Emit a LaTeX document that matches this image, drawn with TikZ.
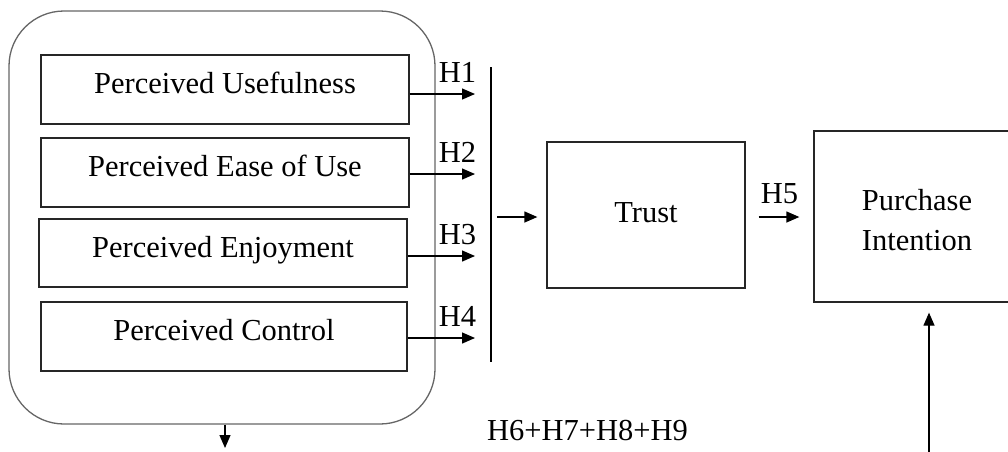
\documentclass[tikz,border=0pt]{standalone}
\usepackage{fontspec}
\setmainfont{Liberation Serif}
\usetikzlibrary{arrows.meta}
\begin{document}
\begin{tikzpicture}[x=1pt,y=-1pt,
  txt/.style={font=\fontsize{30.5}{40}\selectfont},
  box/.style={draw=black!85, line width=1.3pt, inner sep=0pt, txt, align=center,
    text height=20.5pt, text depth=12pt},
  arr/.style={line width=1.3pt, draw=black, -{Triangle[length=13pt,width=11pt]}},
  lbl/.style={txt, inner sep=0pt, anchor=base}]
\useasboundingbox (0,0) rectangle (1008,451);
\clip (0,0) rectangle (1008,451);

% grouping frame around the four perceived factors
\node[draw=black!60, line width=1.3pt, rounded corners=55pt, inner sep=0pt,
  minimum width=426pt, minimum height=413pt] (group) at (222,217.5) {};

% factor boxes
\node[box, minimum width=368pt, minimum height=69pt] (b1) at (225,89.5) {Perceived Usefulness};
\node[box, minimum width=368pt, minimum height=69pt] (b2) at (225,172.5) {Perceived Ease of Use};
\node[box, minimum width=368pt, minimum height=68pt] (b3) at (223,253) {Perceived Enjoyment};
\node[box, minimum width=366pt, minimum height=69pt] (b4) at (224,336.5) {Perceived Control};

% trust and purchase intention
\node[box, minimum width=198pt, minimum height=146pt, text depth=6pt] (trust) at (646,215) {Trust};
\node[box, minimum width=206pt, minimum height=171pt, text height=67pt, text depth=0pt] (pi) at (917,216.5) {Purchase\\Intention};

% arrow end points
\coordinate (t1) at (475,94);
\coordinate (t2) at (475,174);
\coordinate (t3) at (475,256);
\coordinate (t4) at (475,338);
\coordinate (bartop) at (491,67);
\coordinate (barbot) at (491,362);
\coordinate (barout) at (497,217);
\coordinate (h5) at (0,217);
\coordinate (src) at (929,456);
\coordinate (dn) at (225,448);

% hypotheses H1--H4
\foreach \i in {1,2,3,4} {
  \draw[arr] (b\i.east |- t\i) -- (t\i);
  \node[lbl] (lh\i) at ([xshift=-17.5pt, yshift=12pt]t\i) {H\i};
}

% collecting bar
\draw[line width=1.3pt] (bartop) -- (barbot);
\draw[arr, shorten >=9pt] (barout) -- (trust.west |- barout);

% H5
\draw[arr, shorten <=13pt, shorten >=14pt] (trust.east |- h5) -- (pi.west |- h5);
\node[lbl] (lh5) at (779.5,203) {H5};

% H6--H9
\draw[arr] (dn |- group.south) -- (dn);
\draw[arr, shorten >=10pt] (src) -- (src |- pi.south);
\node[lbl] (lh6) at (587.5,440) {H6+H7+H8+H9};
\end{tikzpicture}
\end{document}
